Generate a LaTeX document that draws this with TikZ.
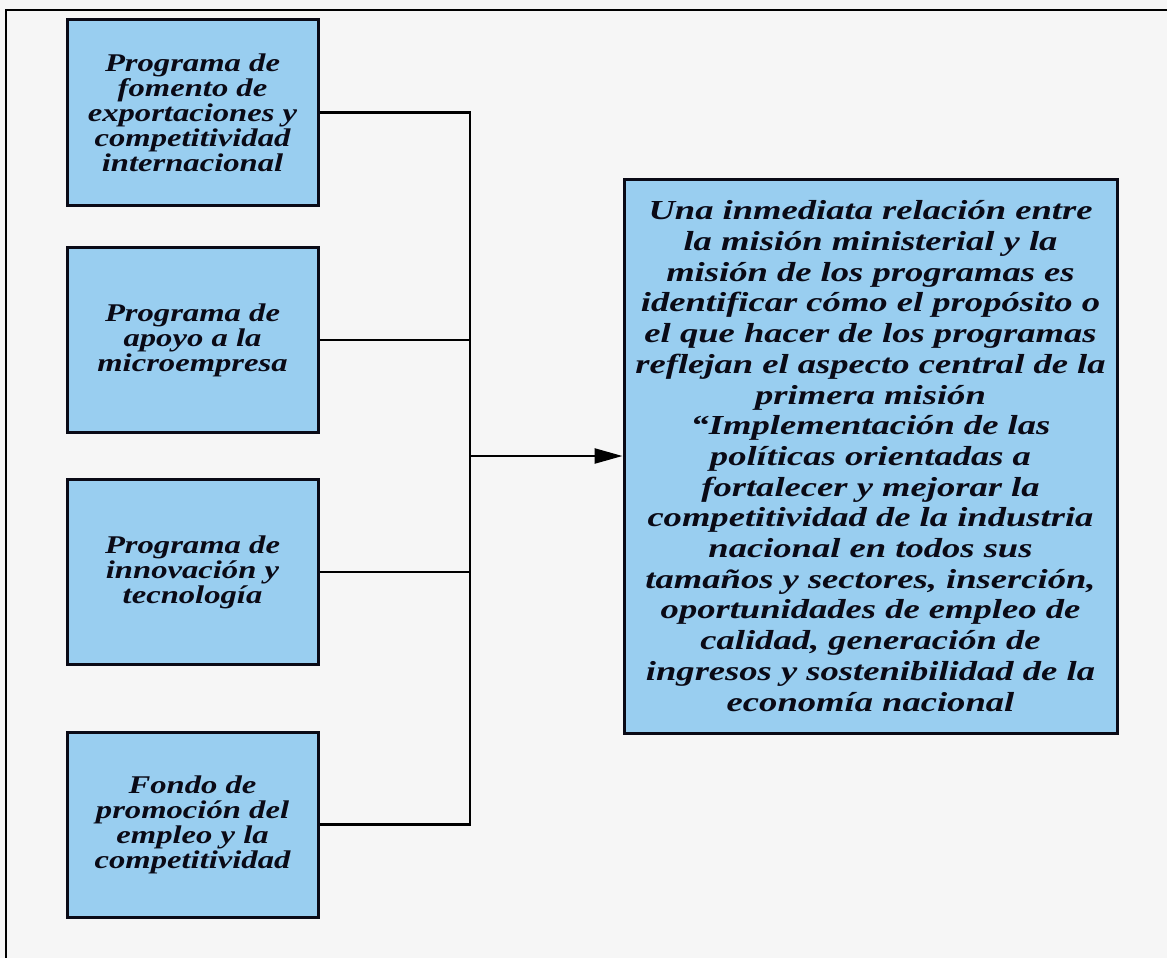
\documentclass[tikz,border=0pt]{standalone}
\usepackage{fontspec}
\setmainfont{Liberation Serif}
\newfontfamily\boxfont{Liberation Serif}[FakeStretch=1.28]
\newfontfamily\bigboxfont{Liberation Serif}[FakeStretch=1.33]
\usetikzlibrary{arrows.meta}
\definecolor{bg}{RGB}{246,246,246}
\definecolor{boxblue}{RGB}{153,206,240}
\definecolor{ink}{RGB}{10,10,22}
\begin{document}
\begin{tikzpicture}[x=1pt,y=-1pt,
  prog/.style={draw=ink, line width=3pt, fill=boxblue, minimum width=251pt,
    minimum height=185pt, inner sep=0pt, align=center, text=ink,
    font=\boxfont\bfseries\itshape\fontsize{25.5}{25}\selectfont},
  mission/.style={draw=ink, line width=3pt, fill=boxblue, minimum width=493pt,
    minimum height=554pt, inner sep=0pt, align=center, text=ink,
    font=\bigboxfont\bfseries\itshape\fontsize{27.5}{30.7}\selectfont},
  link/.style={draw=black, line width=2.5pt},
  frameline/.style={draw=black, line width=2.5pt}]
\useasboundingbox (0,0) rectangle (1167,958);
\fill[bg] (0,0) rectangle (1167,958);
\coordinate (ftl) at (6,10);
\coordinate (ftr) at (1167,10);
\coordinate (fbl) at (6,958);
\draw[frameline] (ftr) -- (ftl) -- (fbl);

\node[prog] (b1) at (192.5,112.5) {Programa de\\fomento de\\exportaciones y\\competitividad\\internacional};
\node[prog] (b2) at (192.5,340) {Programa de\\apoyo a la\\microempresa};
\node[prog] (b3) at (192.5,572) {Programa de\\innovación y\\tecnología};
\node[prog] (b4) at (192.5,824.5) {Fondo de\\promoción del\\empleo y la\\competitividad};

\node[mission] (m) at (870.5,456) {Una inmediata relación entre\\la misión ministerial y la\\misión de los programas es\\identificar cómo el propósito o\\el que hacer de los programas\\reflejan el aspecto central de la\\primera misión\\“Implementación de las\\políticas orientadas a\\fortalecer y mejorar la\\competitividad de la industria\\nacional en todos sus\\tamaños y sectores, inserción,\\oportunidades de empleo de\\calidad, generación de\\ingresos y sostenibilidad de la\\economía nacional};

\coordinate (jt) at (470,112.5);
\coordinate (jb) at (470,824.5);
\draw[link] (b1.east) -- (jt) -- (jb) -- (b4.east);
\draw[link] (b2.east) -- (b2.east -| jt);
\draw[link] (b3.east) -- (b3.east -| jt);
\draw[link,-{Triangle[length=28pt,width=15pt]}] (m.west -| jt) -- (m.west);
\end{tikzpicture}
\end{document}
